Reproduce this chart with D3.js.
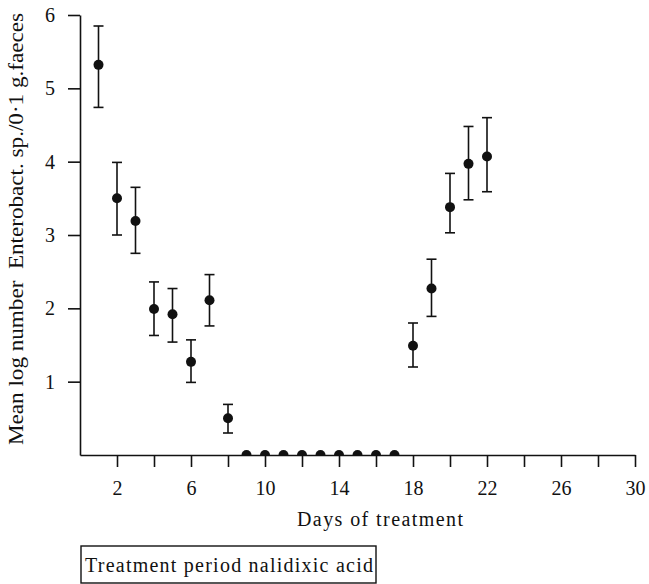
<!DOCTYPE html>
<html lang="en">
<head>
<meta charset="UTF-8">
<title>Enterobact. counts during nalidixic acid treatment</title>
<script src="https://d3js.org/d3.v7.min.js"></script>
<style>
  body, html { margin: 0; padding: 0; background: #fff; }
  svg { font-family: "Liberation Serif", "DejaVu Serif", serif; }
</style>
</head>
<body>
<div id="chart"></div>
<script>
// values
const days  = [1, 2, 3, 4, 5, 6, 7, 8, 9, 10, 11, 12, 13, 14, 15, 16, 17, 18, 19, 20, 21, 22];
const means = [5.32, 3.50, 3.19, 1.99, 1.92, 1.27, 2.11, 0.50, 0, 0, 0, 0, 0, 0, 0, 0, 0, 1.49, 2.27, 3.38, 3.97, 4.07];
const upper = [5.85, 3.99, 3.65, 2.36, 2.27, 1.57, 2.46, 0.69, null, null, null, null, null, null, null, null, null, 1.80, 2.67, 3.84, 4.48, 4.60];
const lower = [4.74, 3.00, 2.75, 1.63, 1.54, 0.99, 1.76, 0.30, null, null, null, null, null, null, null, null, null, 1.20, 1.89, 3.03, 3.48, 3.59];
const xTickValues = [2, 4, 6, 8, 10, 12, 14, 16, 18, 20, 22, 24, 26, 28, 30];
const xTickLabels = [2, 6, 10, 14, 18, 22, 26, 30];
const yTickValues = [1, 2, 3, 4, 5, 6];

const width = 649, height = 584;
const svg = d3.select('#chart').append('svg')
    .attr('width', width)
    .attr('height', height);

const x = d3.scaleLinear().domain([0, 30]).range([80, 635]);
const y = d3.scaleLinear().domain([0, 6]).range([455, 15]);

const data = days.map((d, i) => ({ day: d, mean: means[i], hi: upper[i], lo: lower[i] }));

// axes
const xAxis = d3.axisBottom(x)
    .tickValues(xTickValues)
    .tickSize(12)
    .tickSizeOuter(0)
    .tickFormat(d => xTickLabels.includes(d) ? d : '');
const gx = svg.append('g').attr('transform', `translate(0,${y(0)})`).call(xAxis);

const yAxis = d3.axisLeft(y)
    .tickValues(yTickValues)
    .tickSize(12)
    .tickSizeOuter(0)
    .tickFormat(d3.format('d'));
const gy = svg.append('g').attr('transform', `translate(${x(0)},0)`).call(yAxis);

[gx, gy].forEach(g => {
    g.select('.domain').attr('stroke', '#111').attr('stroke-width', 1.6);
    g.selectAll('.tick line').attr('stroke', '#111').attr('stroke-width', 1.6);
    g.selectAll('.tick text')
        .attr('fill', '#111')
        .style('font-family', '"Liberation Serif", serif')
        .style('font-size', '20px');
});
gx.selectAll('.tick text').attr('y', 40).attr('dy', 0);
gy.selectAll('.tick text').attr('dy', '0.32em').attr('x', -25);

// error bars
const withErr = data.filter(d => d.hi !== null);
const cap = 5;
const eb = svg.append('g').attr('stroke', '#111').attr('stroke-width', 1.6);
eb.selectAll('line.v').data(withErr).enter().append('line')
    .attr('x1', d => x(d.day)).attr('x2', d => x(d.day))
    .attr('y1', d => y(d.hi)).attr('y2', d => y(d.lo));
eb.selectAll('line.t').data(withErr).enter().append('line')
    .attr('x1', d => x(d.day) - cap).attr('x2', d => x(d.day) + cap)
    .attr('y1', d => y(d.hi)).attr('y2', d => y(d.hi));
eb.selectAll('line.b').data(withErr).enter().append('line')
    .attr('x1', d => x(d.day) - cap).attr('x2', d => x(d.day) + cap)
    .attr('y1', d => y(d.lo)).attr('y2', d => y(d.lo));

// points; the zero ones sit on the axis and only their top half shows
svg.append('clipPath').attr('id', 'above')
    .append('rect').attr('x', 0).attr('y', 0).attr('width', width).attr('height', y(0));

svg.append('g').attr('clip-path', 'url(#above)')
    .selectAll('circle').data(data).enter().append('circle')
    .attr('cx', d => x(d.day))
    .attr('cy', d => y(d.mean))
    .attr('r', 5)
    .attr('fill', '#111');

// axis titles
svg.append('text')
    .attr('x', 297)
    .attr('y', 526)
    .attr('fill', '#111')
    .attr('textLength', 166)
    .attr('lengthAdjust', 'spacing')
    .style('font-size', '20px')
    .text('Days of treatment');

svg.append('text')
    .attr('transform', 'translate(23,445) rotate(-90)')
    .attr('fill', '#111')
    .attr('textLength', 432)
    .attr('lengthAdjust', 'spacingAndGlyphs')
    .style('font-size', '20px')
    .style('white-space', 'pre')
    .text('Mean log number  Enterobact. sp./0·1 g.faeces');

// treatment period box
svg.append('rect')
    .attr('x', 81).attr('y', 546)
    .attr('width', 295).attr('height', 37)
    .attr('fill', 'none').attr('stroke', '#111').attr('stroke-width', 1.4);
svg.append('text')
    .attr('x', 85)
    .attr('y', 572)
    .attr('fill', '#111')
    .attr('textLength', 288)
    .attr('lengthAdjust', 'spacing')
    .style('font-size', '20px')
    .text('Treatment period nalidixic acid');
</script>
</body>
</html>
